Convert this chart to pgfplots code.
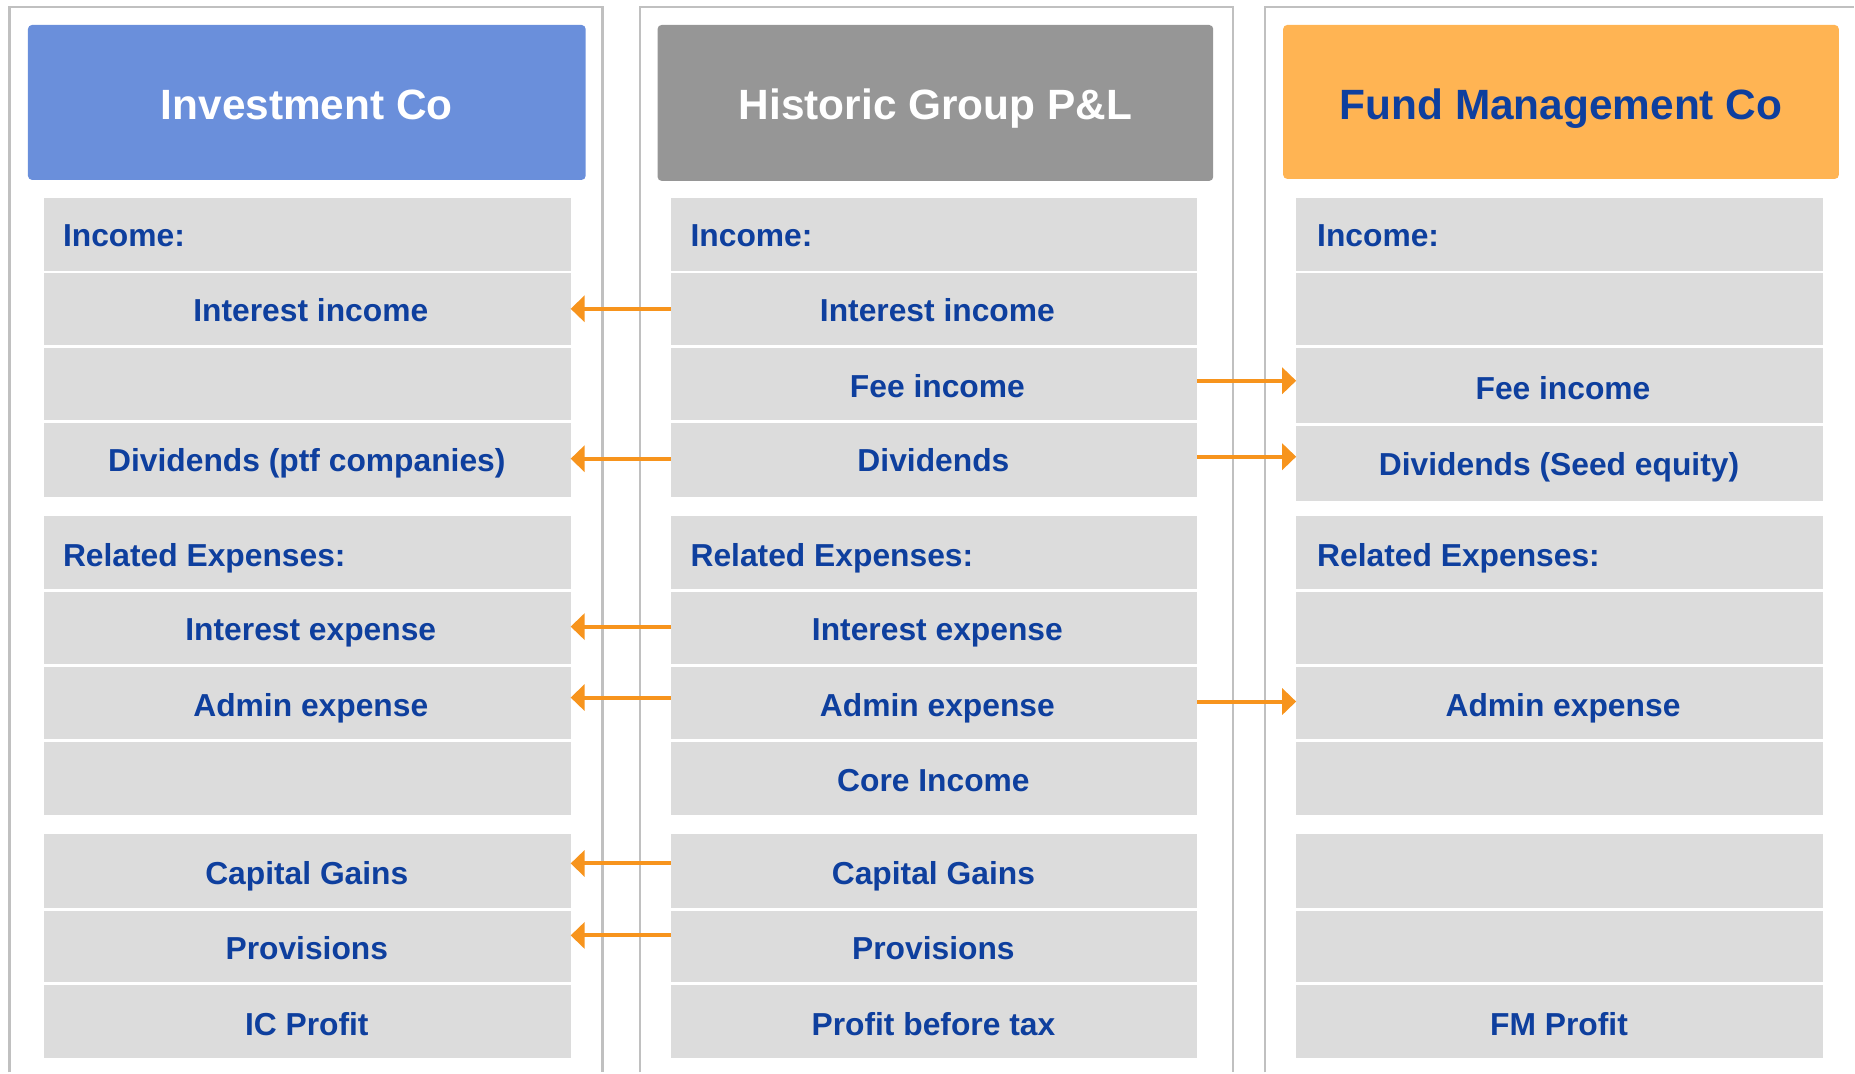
\documentclass[border=0pt]{standalone}
\usepackage{pgfplots}
\pgfplotsset{compat=1.18}
\usepackage{fontspec}
\setmainfont{Liberation Sans}
\usetikzlibrary{arrows.meta}
\definecolor{rowgray}{HTML}{DCDCDC}
\definecolor{panelgray}{HTML}{C0C0C0}
\definecolor{hblue}{HTML}{6A8FDB}
\definecolor{hgray}{HTML}{969696}
\definecolor{horange}{HTML}{FFB453}
\definecolor{tblue}{HTML}{0E3F9E}
\definecolor{arr}{HTML}{F7941D}
\newcommand{\bodyfont}{\fontsize{15.9}{18}\selectfont\bfseries}
\newcommand{\headfont}{\fontsize{21.2}{24}\selectfont\bfseries}
\begin{document}
\begin{tikzpicture}
\begin{axis}[width=927.5pt, height=536.5pt, scale only axis,
  xmin=0, xmax=1855, ymin=0, ymax=1073, y dir=reverse,
  axis lines=none, clip=false]
% full canvas (bounding box)
\path[draw=none, fill=none] (0,0) rectangle (1855,1073);
% panels
\draw[panelgray, line width=1.2pt] (9.5,1073) -- (9.5,7) -- (603,7) -- (603,1073);
\draw[panelgray, line width=1.2pt] (640.5,1073) -- (640.5,7) -- (1234,7) -- (1234,1073);
\draw[panelgray, line width=1.2pt] (1266,1073) -- (1266,7) -- (1855,7);
% headers
\fill[hblue, rounded corners=2pt] (28,25) rectangle (586,180);
\fill[hgray, rounded corners=2pt] (658,25) rectangle (1214,181);
\fill[horange, rounded corners=2pt] (1284,25) rectangle (1840,179);
\node[anchor=base, text=white, font=\headfont] at (307,120) {Investment Co};
\node[anchor=base, text=white, font=\headfont] at (936,120) {Historic Group P\&L};
\node[anchor=base, text=tblue, font=\headfont] at (1562,120) {Fund Management Co};
% row groups column 1
\fill[rowgray] (44,198) rectangle (571,497);
\fill[rowgray] (44,516) rectangle (571,816);
\fill[rowgray] (44,835) rectangle (571,1059);
% column 2
\fill[rowgray] (671,198) rectangle (1198,497);
\fill[rowgray] (671,516) rectangle (1198,816);
\fill[rowgray] (671,835) rectangle (1198,1059);
% column 3
\fill[rowgray] (1297,198) rectangle (1824,501);
\fill[rowgray] (1297,516) rectangle (1824,816);
\fill[rowgray] (1297,835) rectangle (1824,1059);
% separators
\draw[white, line width=1.3pt] (44,272) -- (571,272);
\draw[white, line width=1.3pt] (44,347) -- (571,347);
\draw[white, line width=1.3pt] (44,422) -- (571,422);
\draw[white, line width=1.3pt] (44,591) -- (571,591);
\draw[white, line width=1.3pt] (44,666) -- (571,666);
\draw[white, line width=1.3pt] (44,741) -- (571,741);
\draw[white, line width=1.3pt] (44,910) -- (571,910);
\draw[white, line width=1.3pt] (44,984) -- (571,984);
\draw[white, line width=1.3pt] (671,272) -- (1198,272);
\draw[white, line width=1.3pt] (671,347) -- (1198,347);
\draw[white, line width=1.3pt] (671,422) -- (1198,422);
\draw[white, line width=1.3pt] (671,591) -- (1198,591);
\draw[white, line width=1.3pt] (671,666) -- (1198,666);
\draw[white, line width=1.3pt] (671,741) -- (1198,741);
\draw[white, line width=1.3pt] (671,910) -- (1198,910);
\draw[white, line width=1.3pt] (671,984) -- (1198,984);
\draw[white, line width=1.3pt] (1297,272) -- (1824,272);
\draw[white, line width=1.3pt] (1297,347) -- (1824,347);
\draw[white, line width=1.3pt] (1297,425) -- (1824,425);
\draw[white, line width=1.3pt] (1297,591) -- (1824,591);
\draw[white, line width=1.3pt] (1297,666) -- (1824,666);
\draw[white, line width=1.3pt] (1297,741) -- (1824,741);
\draw[white, line width=1.3pt] (1297,910) -- (1824,910);
\draw[white, line width=1.3pt] (1297,984) -- (1824,984);
% texts column 1
\node[anchor=base west, text=tblue, font=\bodyfont] at (56,247) {Income:};
\node[anchor=base, text=tblue, font=\bodyfont] at (311,322) {Interest income};
\node[anchor=base, text=tblue, font=\bodyfont] at (307,472) {Dividends (ptf companies)};
\node[anchor=base west, text=tblue, font=\bodyfont] at (56,567) {Related Expenses:};
\node[anchor=base, text=tblue, font=\bodyfont] at (311,641) {Interest expense};
\node[anchor=base, text=tblue, font=\bodyfont] at (311,717) {Admin expense};
\node[anchor=base, text=tblue, font=\bodyfont] at (307,885) {Capital Gains};
\node[anchor=base, text=tblue, font=\bodyfont] at (307,960) {Provisions};
\node[anchor=base, text=tblue, font=\bodyfont] at (307,1036) {IC Profit};
% texts column 2
\node[anchor=base west, text=tblue, font=\bodyfont] at (684,247) {Income:};
\node[anchor=base, text=tblue, font=\bodyfont] at (938,322) {Interest income};
\node[anchor=base, text=tblue, font=\bodyfont] at (938,398) {Fee income};
\node[anchor=base, text=tblue, font=\bodyfont] at (934,472) {Dividends};
\node[anchor=base west, text=tblue, font=\bodyfont] at (684,567) {Related Expenses:};
\node[anchor=base, text=tblue, font=\bodyfont] at (938,641) {Interest expense};
\node[anchor=base, text=tblue, font=\bodyfont] at (938,717) {Admin expense};
\node[anchor=base, text=tblue, font=\bodyfont] at (934,792) {Core Income};
\node[anchor=base, text=tblue, font=\bodyfont] at (934,885) {Capital Gains};
\node[anchor=base, text=tblue, font=\bodyfont] at (934,960) {Provisions};
\node[anchor=base, text=tblue, font=\bodyfont] at (934,1036) {Profit before tax};
% texts column 3
\node[anchor=base west, text=tblue, font=\bodyfont] at (1311,247) {Income:};
\node[anchor=base, text=tblue, font=\bodyfont] at (1564,400) {Fee income};
\node[anchor=base, text=tblue, font=\bodyfont] at (1560,476) {Dividends (Seed equity)};
\node[anchor=base west, text=tblue, font=\bodyfont] at (1311,567) {Related Expenses:};
\node[anchor=base, text=tblue, font=\bodyfont] at (1564,717) {Admin expense};
\node[anchor=base, text=tblue, font=\bodyfont] at (1560,1036) {FM Profit};
% arrows
\draw[arr, line width=2pt, -{Triangle[length=7pt,width=13pt]}] (671,309) -- (571,309);
\draw[arr, line width=2pt, -{Triangle[length=7pt,width=13pt]}] (671,459) -- (571,459);
\draw[arr, line width=2pt, -{Triangle[length=7pt,width=13pt]}] (671,627) -- (571,627);
\draw[arr, line width=2pt, -{Triangle[length=7pt,width=13pt]}] (671,698) -- (571,698);
\draw[arr, line width=2pt, -{Triangle[length=7pt,width=13pt]}] (671,864) -- (571,864);
\draw[arr, line width=2pt, -{Triangle[length=7pt,width=13pt]}] (671,936) -- (571,936);
\draw[arr, line width=2pt, -{Triangle[length=7pt,width=13pt]}] (1198,381) -- (1297,381);
\draw[arr, line width=2pt, -{Triangle[length=7pt,width=13pt]}] (1198,457) -- (1297,457);
\draw[arr, line width=2pt, -{Triangle[length=7pt,width=13pt]}] (1198,702) -- (1297,702);
\end{axis}
\end{tikzpicture}
\end{document}
